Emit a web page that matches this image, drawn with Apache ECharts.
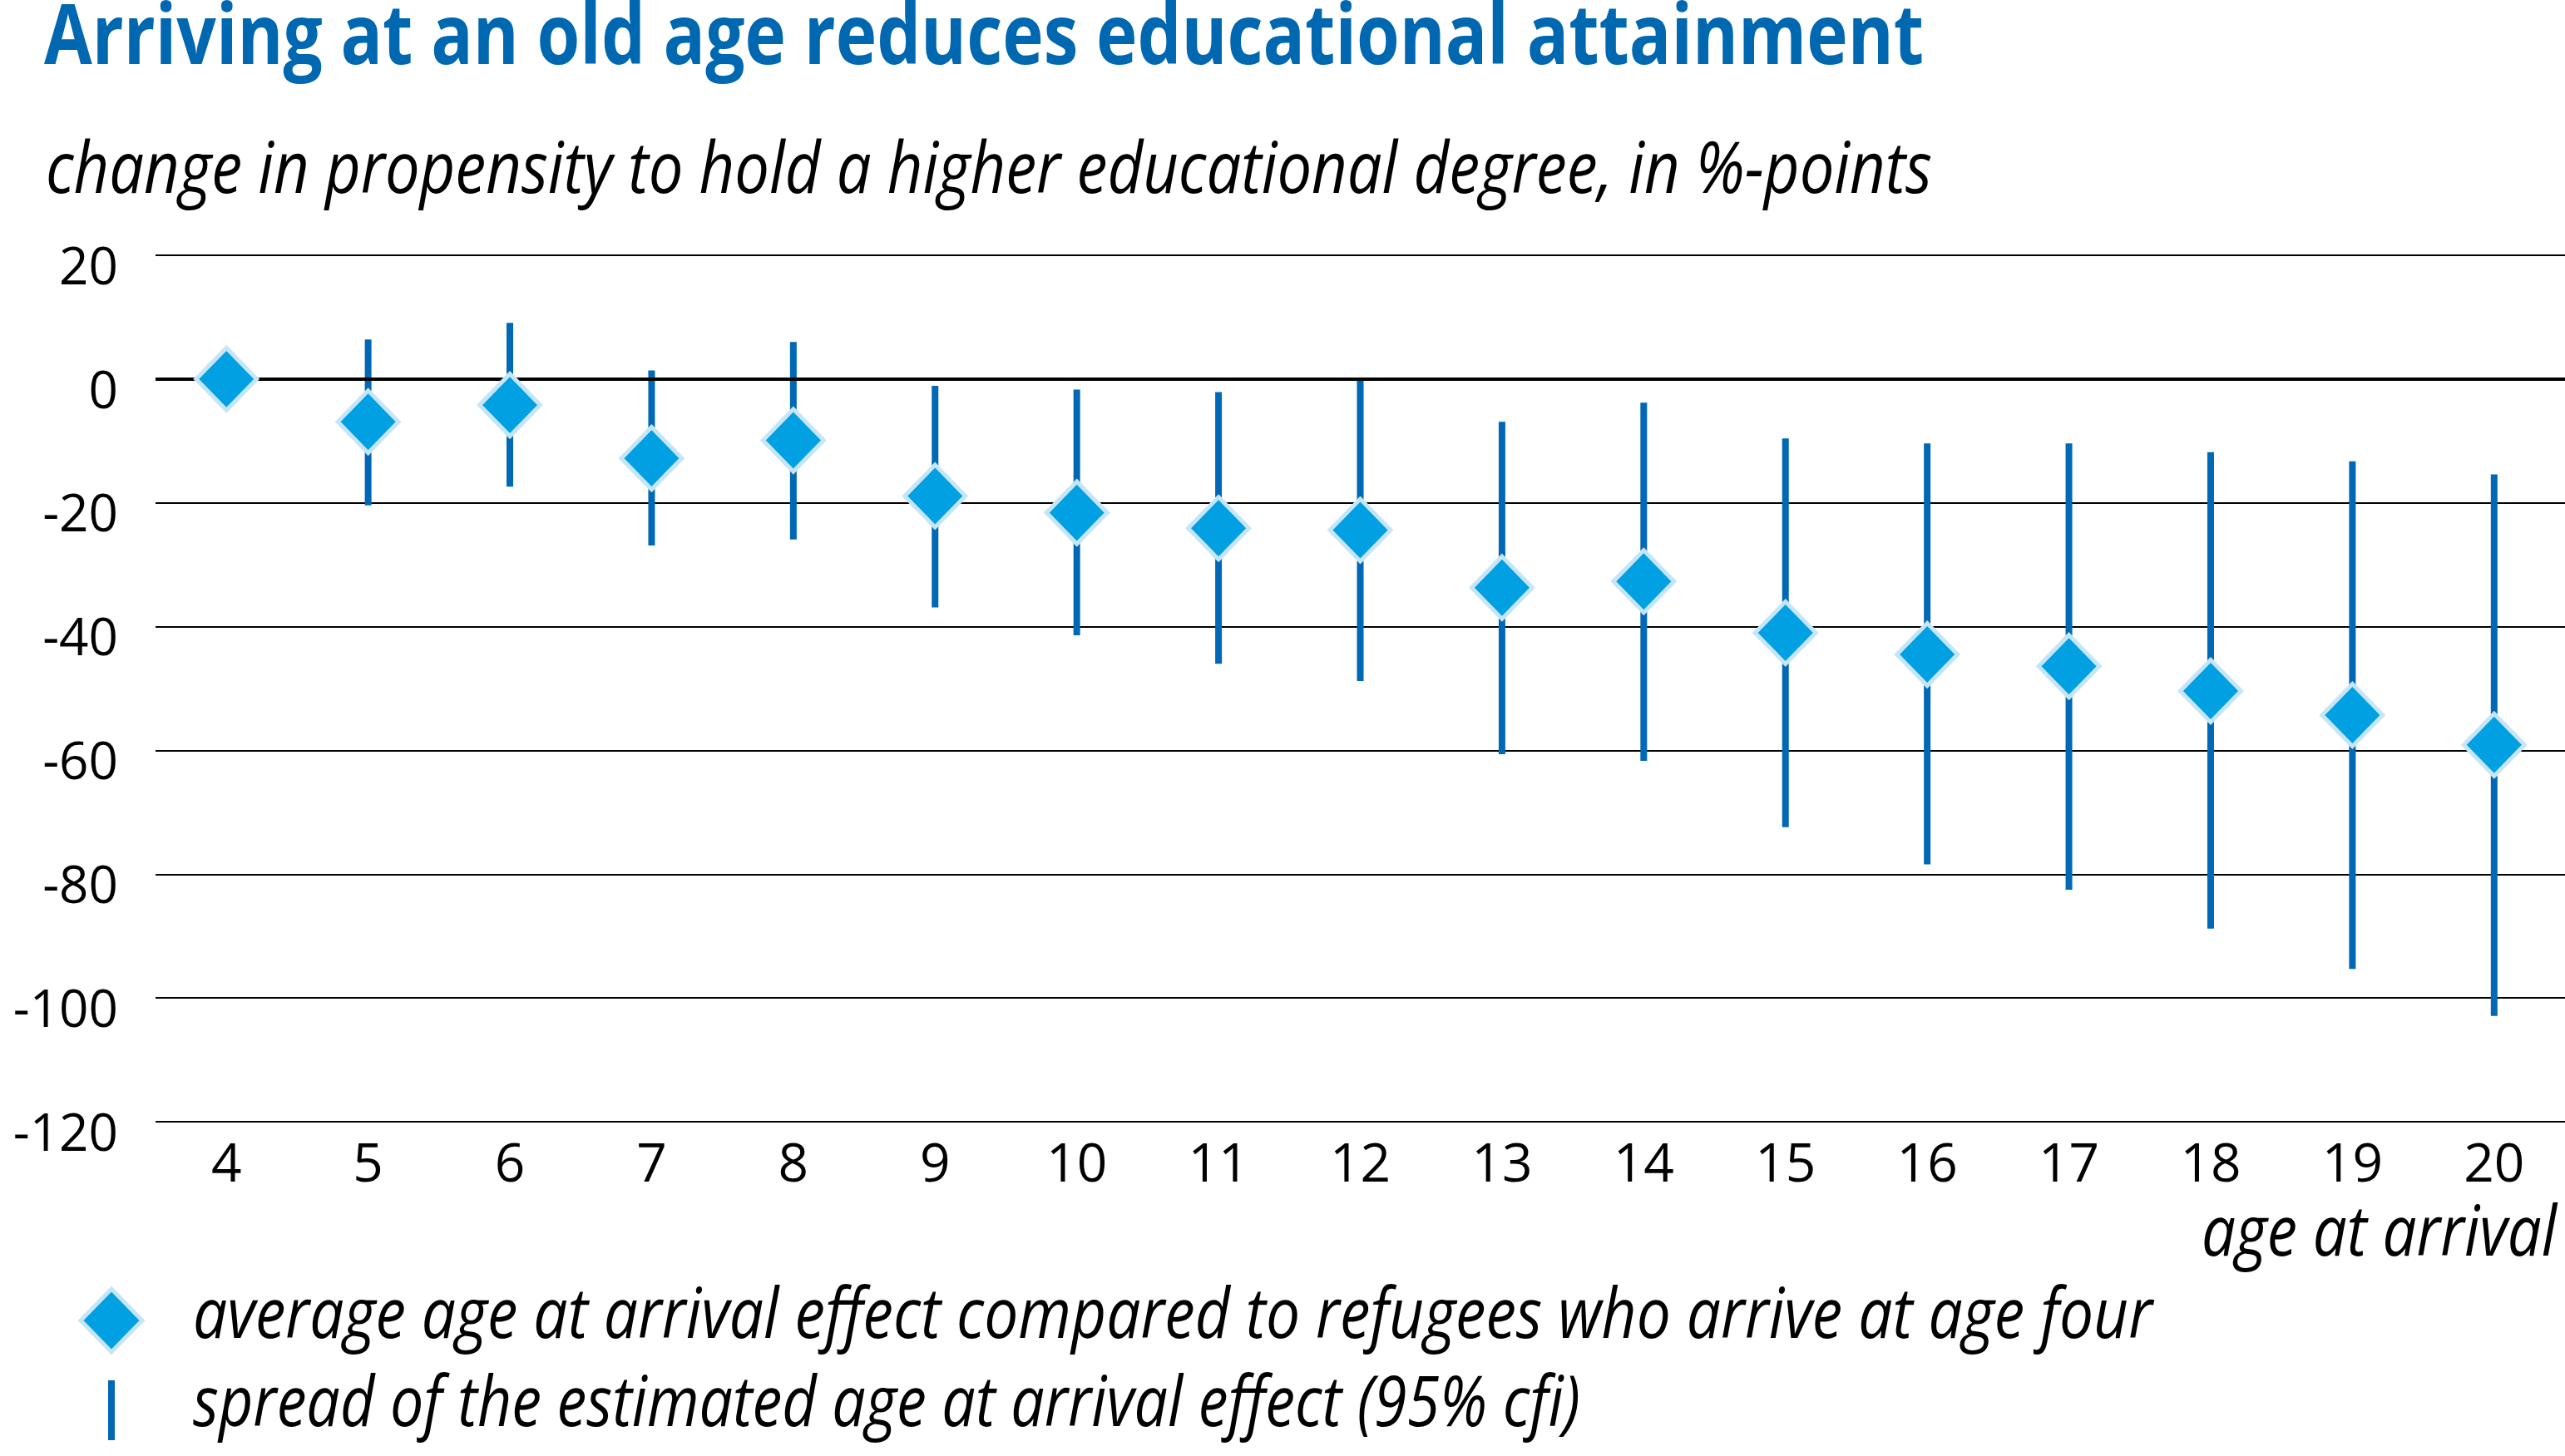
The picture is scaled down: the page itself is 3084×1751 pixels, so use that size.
<!DOCTYPE html>
<html><head><meta charset="utf-8">
<script src="https://cdn.jsdelivr.net/npm/echarts@6/dist/echarts.min.js"></script>
<style>html,body{margin:0;padding:0;background:#fff}#c{width:3084px;height:1751px}</style>
</head><body><div id="c"></div>
<script>
// ---- data ----
const ages = ['4','5','6','7','8','9','10','11','12','13','14','15','16','17','18','19','20'];
const effect = [0, -6.9, -4.2, -12.8, -9.9, -18.9, -21.6, -24.1, -24.4, -33.7, -32.7, -41.0, -44.5, -46.4, -50.4, -54.3, -59.1];
const ciLow  = [null, -20.4, -17.4, -26.9, -25.9, -36.9, -41.4, -46.0, -48.8, -60.6, -61.7, -72.4, -78.4, -82.5, -88.8, -95.3, -102.9];
const ciHigh = [null, 6.4, 9.1, 1.4, 6.0, -1.1, -1.7, -2.1, 0.1, -6.9, -3.8, -9.6, -10.4, -10.4, -11.8, -13.3, -15.4];
const yMin = -120, yMax = 20, yStep = 20;

const titleText = 'Arriving at an old age reduces educational attainment';
const subtitleText = 'change in propensity to hold a higher educational degree, in %-points';
const xName = 'age at arrival';
const legendMean = 'average age at arrival effect compared to refugees who arrive at age four';
const legendSpread = 'spread of the estimated age at arrival effect (95% cfi)';

// ---- helpers ----
const FONT = "'Open Sans', 'Noto Sans', sans-serif";
const mctx = document.createElement('canvas').getContext('2d');
function fitScale(text, weight, style, size, target) {
  mctx.font = style + ' ' + weight + ' ' + size + 'px ' + FONT;
  return target / mctx.measureText(text).width;
}
function txt(text, x, yMid, size, weight, style, color, target, align) {
  const s = fitScale(text, weight, style, size, target);
  return {
    type: 'text', x: x, y: yMid, scaleX: s, scaleY: 1, silent: true,
    style: {
      x: 0, y: 0, text: text, fill: color,
      fontFamily: FONT, fontSize: size, fontWeight: weight, fontStyle: style,
      align: align || 'left', verticalAlign: 'middle',
      textAlign: align || 'left', textVerticalAlign: 'middle'
    }
  };
}

const errData = [];
ages.forEach((a, i) => { if (ciLow[i] !== null) errData.push([i, ciLow[i], ciHigh[i]]); });

const chart = echarts.init(document.getElementById('c'), null, {renderer: 'canvas'});
chart.setOption({
  animation: false,
  backgroundColor: '#fff',
  grid: {left: 187, right: 0, top: 307, bottom: 402, containLabel: false},
  xAxis: {
    type: 'category', data: ages, boundaryGap: true,
    axisLine: {show: false, onZero: false}, axisTick: {show: false},
    axisLabel: {color: '#000', fontFamily: FONT, fontSize: 64, lineHeight: 64, margin: 22}
  },
  yAxis: {
    type: 'value', min: yMin, max: yMax, interval: yStep,
    axisLine: {show: false}, axisTick: {show: false},
    axisLabel: {color: '#000', fontFamily: FONT, fontSize: 62, margin: 45,
                verticalAlign: 'top', lineHeight: 34},
    splitLine: {show: true, lineStyle: {color: '#000', width: 2}}
  },
  series: [
    {
      type: 'custom', name: 'spread', z: 3,
      data: errData,
      encode: {x: 0, y: [1, 2]},
      renderItem: function (params, api) {
        const i = api.value(0);
        const p1 = api.coord([i, api.value(2)]);
        const p2 = api.coord([i, api.value(1)]);
        return {type: 'line', shape: {x1: p1[0], y1: p1[1], x2: p2[0], y2: p2[1]},
                style: {stroke: '#0068b4', lineWidth: 8}};
      },
      markLine: {
        silent: true, symbol: 'none', label: {show: false},
        lineStyle: {color: '#000', width: 4, type: 'solid'},
        data: [{yAxis: 0}]
      }
    },
    {
      type: 'scatter', name: 'mean', z: 5,
      data: effect,
      symbol: 'diamond', symbolSize: [73, 75],
      itemStyle: {color: '#00a0e2', borderColor: '#c6e6f8', borderWidth: 5, opacity: 1}
    }
  ],
  graphic: [
    txt(titleText, 53, 49, 100, 'bold', 'normal', '#0067b1', 2260, 'left'),
    txt(subtitleText, 55, 207, 86, 'normal', 'italic', '#000', 2268, 'left'),
    txt(xName, 3074, 1486, 84, 'normal', 'italic', '#000', 427, 'right'),
    txt(legendMean, 232, 1585, 84, 'normal', 'italic', '#000', 2356, 'left'),
    txt(legendSpread, 232, 1691, 84, 'normal', 'italic', '#000', 1668, 'left'),
    {type: 'polygon', silent: true,
     shape: {points: [[134, 1550], [171, 1588], [134, 1626], [97, 1588]]},
     style: {fill: '#00a0e2', stroke: '#c6e6f8', lineWidth: 5}},
    {type: 'rect', silent: true,
     shape: {x: 130, y: 1660, width: 8, height: 72},
     style: {fill: '#0068b4'}}
  ]
});
</script>
</body></html>
